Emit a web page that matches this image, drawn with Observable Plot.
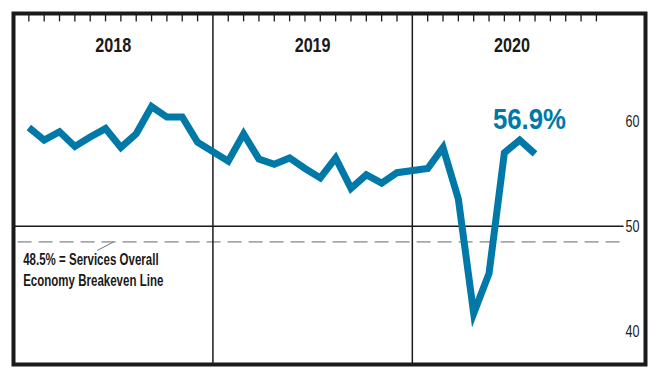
<!DOCTYPE html>
<html><head><meta charset="utf-8">
<script src="https://cdn.jsdelivr.net/npm/d3@7"></script>
<script src="https://cdn.jsdelivr.net/npm/@observablehq/plot@0.6"></script>
<style>
html,body{margin:0;padding:0;background:#fff;}
#chart svg{display:block;}
</style></head><body><div id="chart"></div>
<script>
// ---- data ----
const years = [2018, 2019, 2020];
const values2018 = [59.4, 58.2, 59.0, 57.6, 58.5, 59.3, 57.5, 58.8, 61.4, 60.4, 60.4, 58.0];
const values2019 = [56.2, 58.8, 56.4, 55.9, 56.5, 55.5, 54.6, 56.5, 53.6, 54.9, 54.1, 55.1];
const values2020 = [55.5, 57.5, 52.6, 41.7, 45.5, 57.0, 58.2, 56.9];
const yTicks = [40, 50, 60];
const referenceLevel = 50;
const breakeven = 48.5;
const latestLabel = "56.9%";
const annotationText = "48.5% = Services Overall\nEconomy Breakeven Line";

// ---- layout helpers ----
const SLOTS = 13; // 12 month slots + one divider slot per year
const series = [values2018, values2019, values2020];
const data = series.flatMap((vals, i) =>
  vals.map((v, m) => ({year: years[i], month: m + 1, slot: i * SLOTS + m + 1, value: v})));
const monthTicks = years.flatMap((y, i) => d3.range(1, 13).map(m => i * SLOTS + m));
const yearLines = years.slice(1).map((y, i) => (i + 1) * SLOTS);
const yearLabels = years.map((y, i) => ({year: String(y), slot: i * SLOTS + 6.5}));
const last = data[data.length - 1];

const BLUE = "#0079a8";
const INK = "#1a1a1a";
const FONT = '"Liberation Sans", Arial, sans-serif';
const yTop = 70.26, yBottom = 36.83;

const chart = Plot.plot({
  width: 658, height: 378,
  marginLeft: 13, marginRight: 13, marginTop: 13, marginBottom: 14,
  style: {fontFamily: FONT, background: "#fff", color: INK},
  x: {domain: [0, 41.2], axis: null},
  y: {domain: [yBottom, yTop], axis: null},
  marks: [
    Plot.ruleY([breakeven], {x1: 0.3, x2: 39.8, stroke: "#a8a8a8", strokeWidth: 1.8, strokeDasharray: "14,7"}),
    Plot.ruleY([referenceLevel], {x1: 0, x2: 39.8, stroke: INK, strokeWidth: 1.5}),
    Plot.ruleX(yearLines, {stroke: INK, strokeWidth: 1.5}),
    Plot.ruleX(monthTicks, {y1: yTop, y2: yTop - 0.8, stroke: INK, strokeWidth: 1.3}),
    Plot.link([breakeven], {x1: 6.52, y1: d => d, x2: 5.46, y2: 47.69, stroke: "#777", strokeWidth: 1}),
    Plot.text([annotationText], {x: 0.63, y: 45.93, text: d => d, textAnchor: "start", lineAnchor: "middle",
      fontSize: 16, fontWeight: "bold", lineHeight: 1.3, fill: INK, ariaDescription: "annotation"}),
    Plot.line(data, {x: "slot", y: "value", stroke: BLUE, strokeWidth: 7,
      strokeLinejoin: "miter", strokeLinecap: "butt", strokeMiterlimit: 10}),
    Plot.text(yearLabels, {x: "slot", text: "year", frameAnchor: "top", dy: 24,
      fontSize: 21, fontWeight: "bold", fill: INK, ariaDescription: "year-labels"}),
    Plot.text([last], {x: "slot", y: "value", text: () => latestLabel, dx: -5.6, dy: -34,
      fontSize: 30, fontWeight: "bold", fill: BLUE, ariaDescription: "latest-label"}),
    Plot.axisY({anchor: "right", ticks: yTicks, tickSize: 0, tickPadding: 0, label: null,
      textAnchor: "end", dx: -6, fontSize: 17, ariaDescription: "y-ticks"}),
    Plot.frame({stroke: INK, strokeWidth: 4})
  ]
});
document.getElementById("chart").append(chart);

// condense the lettering horizontally (the reference uses a condensed typeface)
const squeeze = {"annotation": 0.72, "year-labels": 0.77, "latest-label": 0.86, "y-ticks": 0.74};
for (const [label, s] of Object.entries(squeeze)) {
  chart.querySelectorAll(`g[aria-description="${label}"] text`).forEach(t => {
    const x = +(t.getAttribute("x") || 0);
    const tr = t.getAttribute("transform") || "";
    t.setAttribute("transform", `${tr} translate(${x},0) scale(${s},1) translate(${-x},0)`);
  });
}
</script></body></html>
